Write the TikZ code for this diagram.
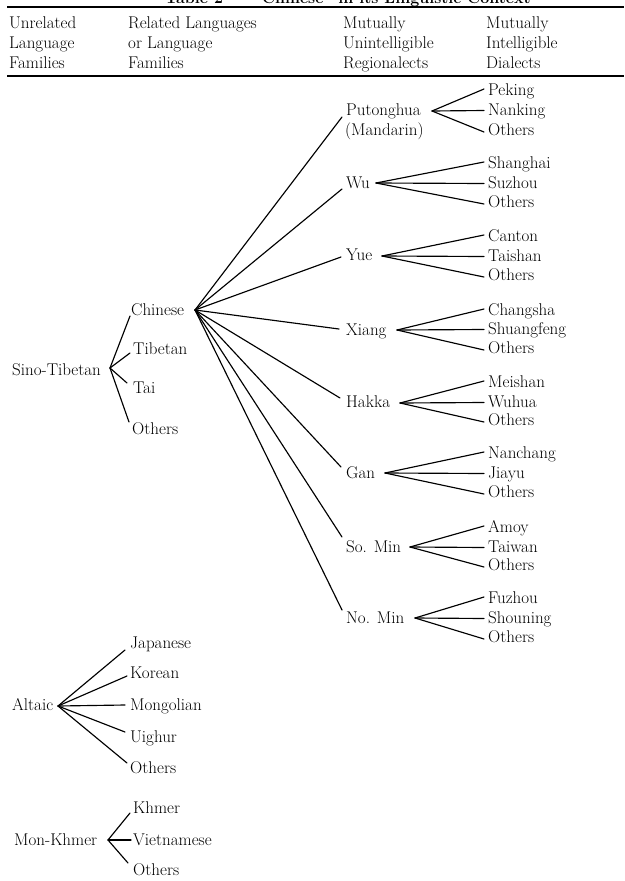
\documentclass[tikz,border=0pt]{standalone}
\begin{document}
\begin{tikzpicture}[x=1pt,y=-1pt,
  lbl/.style={inner sep=0pt, anchor=base west, font=\fontsize{17}{20}\selectfont},
  ttl/.style={inner sep=0pt, anchor=base west, font=\bfseries\fontsize{16}{18}\selectfont},
  br/.style={line width=1.15pt, line cap=round},
  rulesty/.style={line width=1.3pt}]
\useasboundingbox (0,0) rectangle (624,881);
\clip (0,0) rectangle (624,881);
\fill[white] (0,0) rectangle (624,881);

% title (cut off at the top) and rules
\node[ttl] (title) at (165,3) {{\scshape Table 2} --- ``Chinese'' in its Linguistic Context};
\draw[rulesty] (7,7) -- (624,7);
\draw[rulesty] (7,76) -- (624,76);

% header
\node[lbl] (h1a) at (9,28) {Unrelated};
\node[lbl] (h1b) at (9,48) {Language};
\node[lbl] (h1c) at (9,68) {Families};
\node[lbl] (h2a) at (128,28) {Related Languages};
\node[lbl] (h2b) at (128,48) {or Language};
\node[lbl] (h2c) at (128,68) {Families};
\node[lbl] (h3a) at (343,28) {Mutually};
\node[lbl] (h3b) at (343,48) {Unintelligible};
\node[lbl] (h3c) at (343,68) {Regionalects};
\node[lbl] (h4a) at (486,28) {Mutually};
\node[lbl] (h4b) at (486,48) {Intelligible};
\node[lbl] (h4c) at (486,68) {Dialects};

% Sino-Tibetan
\node[lbl] (st) at (12,375) {Sino-Tibetan};
\node[lbl] (chinese) at (131,315) {Chinese};
\node[lbl] (tibetan) at (133,354) {Tibetan};
\node[lbl] (tai) at (133,393) {Tai};
\node[lbl] (sto) at (132,434) {Others};
\coordinate (stj) at (110,368);
\draw[br] (stj) -- ([shift={(-1,1)}]chinese.base west);
\draw[br] (stj) -- ([shift={(-3,-1)}]tibetan.base west);
\draw[br] (stj) -- ([shift={(-6,-10)}]tai.base west);
\draw[br] (stj) -- ([shift={(-3,-12)}]sto.base west);

% regionalects
\coordinate (chj) at (195,310);
\node[lbl] (pth) at (346,115) {Putonghua};
\node[lbl] (mand) at (345,135) {(Mandarin)};
\node[lbl] (wu) at (346,188) {Wu};
\node[lbl] (yue) at (346,260) {Yue};
\node[lbl] (xiang) at (346,335) {Xiang};
\node[lbl] (hakka) at (346,407) {Hakka};
\node[lbl] (gan) at (346,478) {Gan};
\node[lbl] (somin) at (346,552) {So. Min};
\node[lbl] (nomin) at (346,623) {No. Min};
\draw[br] (chj) -- ([shift={(-4,2)}]pth.base west);
\draw[br] (chj) -- ([shift={(-4,1)}]wu.base west);
\draw[br] (chj) -- ([shift={(-5,-3)}]yue.base west);
\draw[br] (chj) -- ([shift={(-7,-6)}]xiang.base west);
\draw[br] (chj) -- ([shift={(-6,-9)}]hakka.base west);
\draw[br] (chj) -- ([shift={(-5,-11)}]gan.base west);
\draw[br] (chj) -- ([shift={(-4,-15)}]somin.base west);
\draw[br] (chj) -- ([shift={(-4,-13)}]nomin.base west);

% dialects
\coordinate (pthj) at (432,111);
\node[lbl] (d1a) at (488,95) {Peking};
\node[lbl] (d1b) at (488,115) {Nanking};
\node[lbl] (d1c) at (488,135) {Others};
\coordinate (wuj) at (376,183);
\node[lbl] (d2a) at (488,168) {Shanghai};
\node[lbl] (d2b) at (488,188) {Suzhou};
\node[lbl] (d2c) at (488,207) {Others};
\coordinate (yuej) at (382,256);
\node[lbl] (d3a) at (488,241) {Canton};
\node[lbl] (d3b) at (488,261) {Taishan};
\node[lbl] (d3c) at (488,280) {Others};
\coordinate (xiangj) at (397,330);
\node[lbl] (d4a) at (488,315) {Changsha};
\node[lbl] (d4b) at (488,334) {Shuangfeng};
\node[lbl] (d4c) at (488,353) {Others};
\coordinate (hakkaj) at (400,403);
\node[lbl] (d5a) at (488,387) {Meishan};
\node[lbl] (d5b) at (488,407) {Wuhua};
\node[lbl] (d5c) at (488,425) {Others};
\coordinate (ganj) at (385,473);
\node[lbl] (d6a) at (488,458) {Nanchang};
\node[lbl] (d6b) at (488,478) {Jiayu};
\node[lbl] (d6c) at (488,497) {Others};
\coordinate (sominj) at (410,547);
\node[lbl] (d7a) at (488,532) {Amoy};
\node[lbl] (d7b) at (488,552) {Taiwan};
\node[lbl] (d7c) at (488,570) {Others};
\coordinate (nominj) at (415,618);
\node[lbl] (d8a) at (488,603) {Fuzhou};
\node[lbl] (d8b) at (488,623) {Shouning};
\node[lbl] (d8c) at (488,642) {Others};
\foreach \j/\a/\b/\c in {pthj/d1a/d1b/d1c, wuj/d2a/d2b/d2c, yuej/d3a/d3b/d3c,
  xiangj/d4a/d4b/d4c, hakkaj/d5a/d5b/d5c, ganj/d6a/d6b/d6c,
  sominj/d7a/d7b/d7c, nominj/d8a/d8b/d8c}{
  \draw[br] (\j) -- ([shift={(-4,-6)}]\a.base west);
  \draw[br] (\j) -- ([shift={(-4,-4.5)}]\b.base west);
  \draw[br] (\j) -- ([shift={(-4,-3)}]\c.base west);
}

% Altaic
\node[lbl] (alt) at (12,710) {Altaic};
\coordinate (altj) at (58,706);
\node[lbl] (jap) at (130,648) {Japanese};
\node[lbl] (kor) at (130,678) {Korean};
\node[lbl] (mon) at (130,710) {Mongolian};
\node[lbl] (uig) at (130,742) {Uighur};
\node[lbl] (alto) at (130,773) {Others};
\draw[br] (altj) -- ([shift={(-5,2)}]jap.base west);
\draw[br] (altj) -- ([shift={(-3,-2)}]kor.base west);
\draw[br] (altj) -- ([shift={(-5,-5)}]mon.base west);
\draw[br] (altj) -- ([shift={(-5,-10)}]uig.base west);
\draw[br] (altj) -- ([shift={(-3,-10)}]alto.base west);

% Mon-Khmer
\node[lbl] (mk) at (14,845) {Mon-Khmer};
\coordinate (mkj) at (108,840);
\node[lbl] (khm) at (133,813) {Khmer};
\node[lbl] (vie) at (133,845) {Vietnamese};
\node[lbl] (mko) at (133,875) {Others};
\draw[br] (mkj) -- ([shift={(-3,0)}]khm.base west);
\draw[br] (mkj) -- ([shift={(-2,-5)}]vie.base west);
\draw[br] (mkj) -- ([shift={(-5,-12)}]mko.base west);
\end{tikzpicture}
\end{document}
